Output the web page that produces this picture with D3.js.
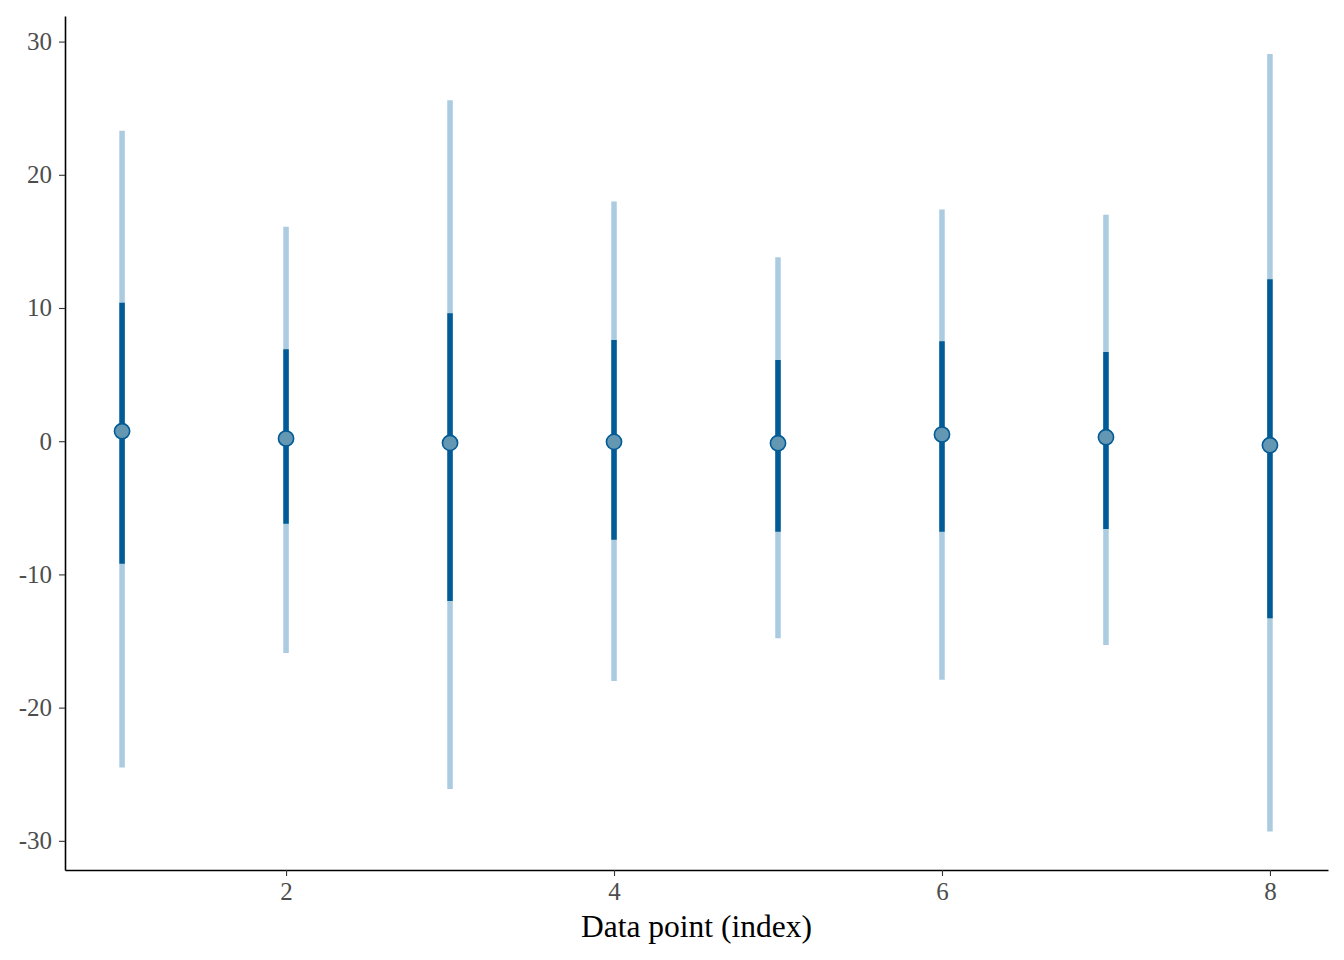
<!DOCTYPE html>
<meta charset="utf-8">
<style>
body { margin: 0; background: #fff; }
text { font-family: "Liberation Serif", "DejaVu Serif", serif; }
</style>
<body>
<script src="https://cdn.jsdelivr.net/npm/d3@7"></script>
<script>
// DATA
var idx     = [1, 2, 3, 4, 5, 6, 7, 8];
var median  = [0.75, 0.2, -0.13, -0.05, -0.15, 0.5, 0.3, -0.3];
var innerLo = [-9.2, -6.2, -12.0, -7.4, -6.8, -6.8, -6.6, -13.3];
var innerHi = [10.4, 6.9, 9.6, 7.6, 6.1, 7.5, 6.7, 12.15];
var outerLo = [-24.5, -15.9, -26.1, -18.0, -14.8, -17.9, -15.3, -29.3];
var outerHi = [23.3, 16.1, 25.6, 18.0, 13.8, 17.4, 17.0, 29.07];
var xTicks  = [2, 4, 6, 8];
var yTicks  = [-30, -20, -10, 0, 10, 20, 30];

// canvas
var width = 1344, height = 960;
var plotLeft = 65, plotRight = 1328, plotTop = 16, plotBottom = 870;

var svg = d3.select("body").append("svg")
    .attr("width", width)
    .attr("height", height);

var x = d3.scaleLinear().domain([0.652, 8.354]).range([plotLeft, plotRight]);
var y = d3.scaleLinear().domain([-32.19, 31.92]).range([plotBottom, plotTop]);

// outer intervals
svg.selectAll(".outer").data(idx).enter().append("line")
    .attr("class", "outer")
    .attr("x1", function(d) { return x(d); })
    .attr("x2", function(d) { return x(d); })
    .attr("y1", function(d, i) { return y(outerLo[i]); })
    .attr("y2", function(d, i) { return y(outerHi[i]); })
    .attr("stroke", "#abcbe0")
    .attr("stroke-width", 5.5);

// inner intervals
svg.selectAll(".inner").data(idx).enter().append("line")
    .attr("class", "inner")
    .attr("x1", function(d) { return x(d); })
    .attr("x2", function(d) { return x(d); })
    .attr("y1", function(d, i) { return y(innerLo[i]); })
    .attr("y2", function(d, i) { return y(innerHi[i]); })
    .attr("stroke", "#005b96")
    .attr("stroke-width", 5.5);

// medians
svg.selectAll(".pt").data(idx).enter().append("circle")
    .attr("class", "pt")
    .attr("cx", function(d) { return x(d); })
    .attr("cy", function(d, i) { return y(median[i]); })
    .attr("r", 7.6)
    .attr("fill", "#6497b1")
    .attr("stroke", "#005b96")
    .attr("stroke-width", 1.6);

// axes
var xAxis = svg.append("g")
    .attr("transform", "translate(0," + plotBottom + ")")
    .call(d3.axisBottom(x).tickValues(xTicks).tickSizeInner(6).tickSizeOuter(0).tickPadding(6)
      .tickFormat(d3.format("d")));
var yAxis = svg.append("g")
    .attr("transform", "translate(" + plotLeft + ",0)")
    .call(d3.axisLeft(y).tickValues(yTicks).tickSizeInner(6).tickSizeOuter(0).tickPadding(7)
      .tickFormat(function(d) { return d < 0 ? "-" + Math.abs(d) : d; }));

[xAxis, yAxis].forEach(function(a) {
  a.attr("font-size", 25).attr("font-family", "Liberation Serif");
  a.select(".domain").attr("stroke", "#000").attr("stroke-width", 1.6);
  a.selectAll(".tick line").attr("stroke", "#333").attr("stroke-width", 1.1);
  a.selectAll(".tick text").attr("fill", "#4d4d4d");
});

// x title
svg.append("text")
    .text("Data point (index)")
    .attr("x", (plotLeft + plotRight) / 2)
    .attr("y", 937)
    .attr("text-anchor", "middle")
    .attr("font-size", 31.5)
    .attr("fill", "#000");
</script>
